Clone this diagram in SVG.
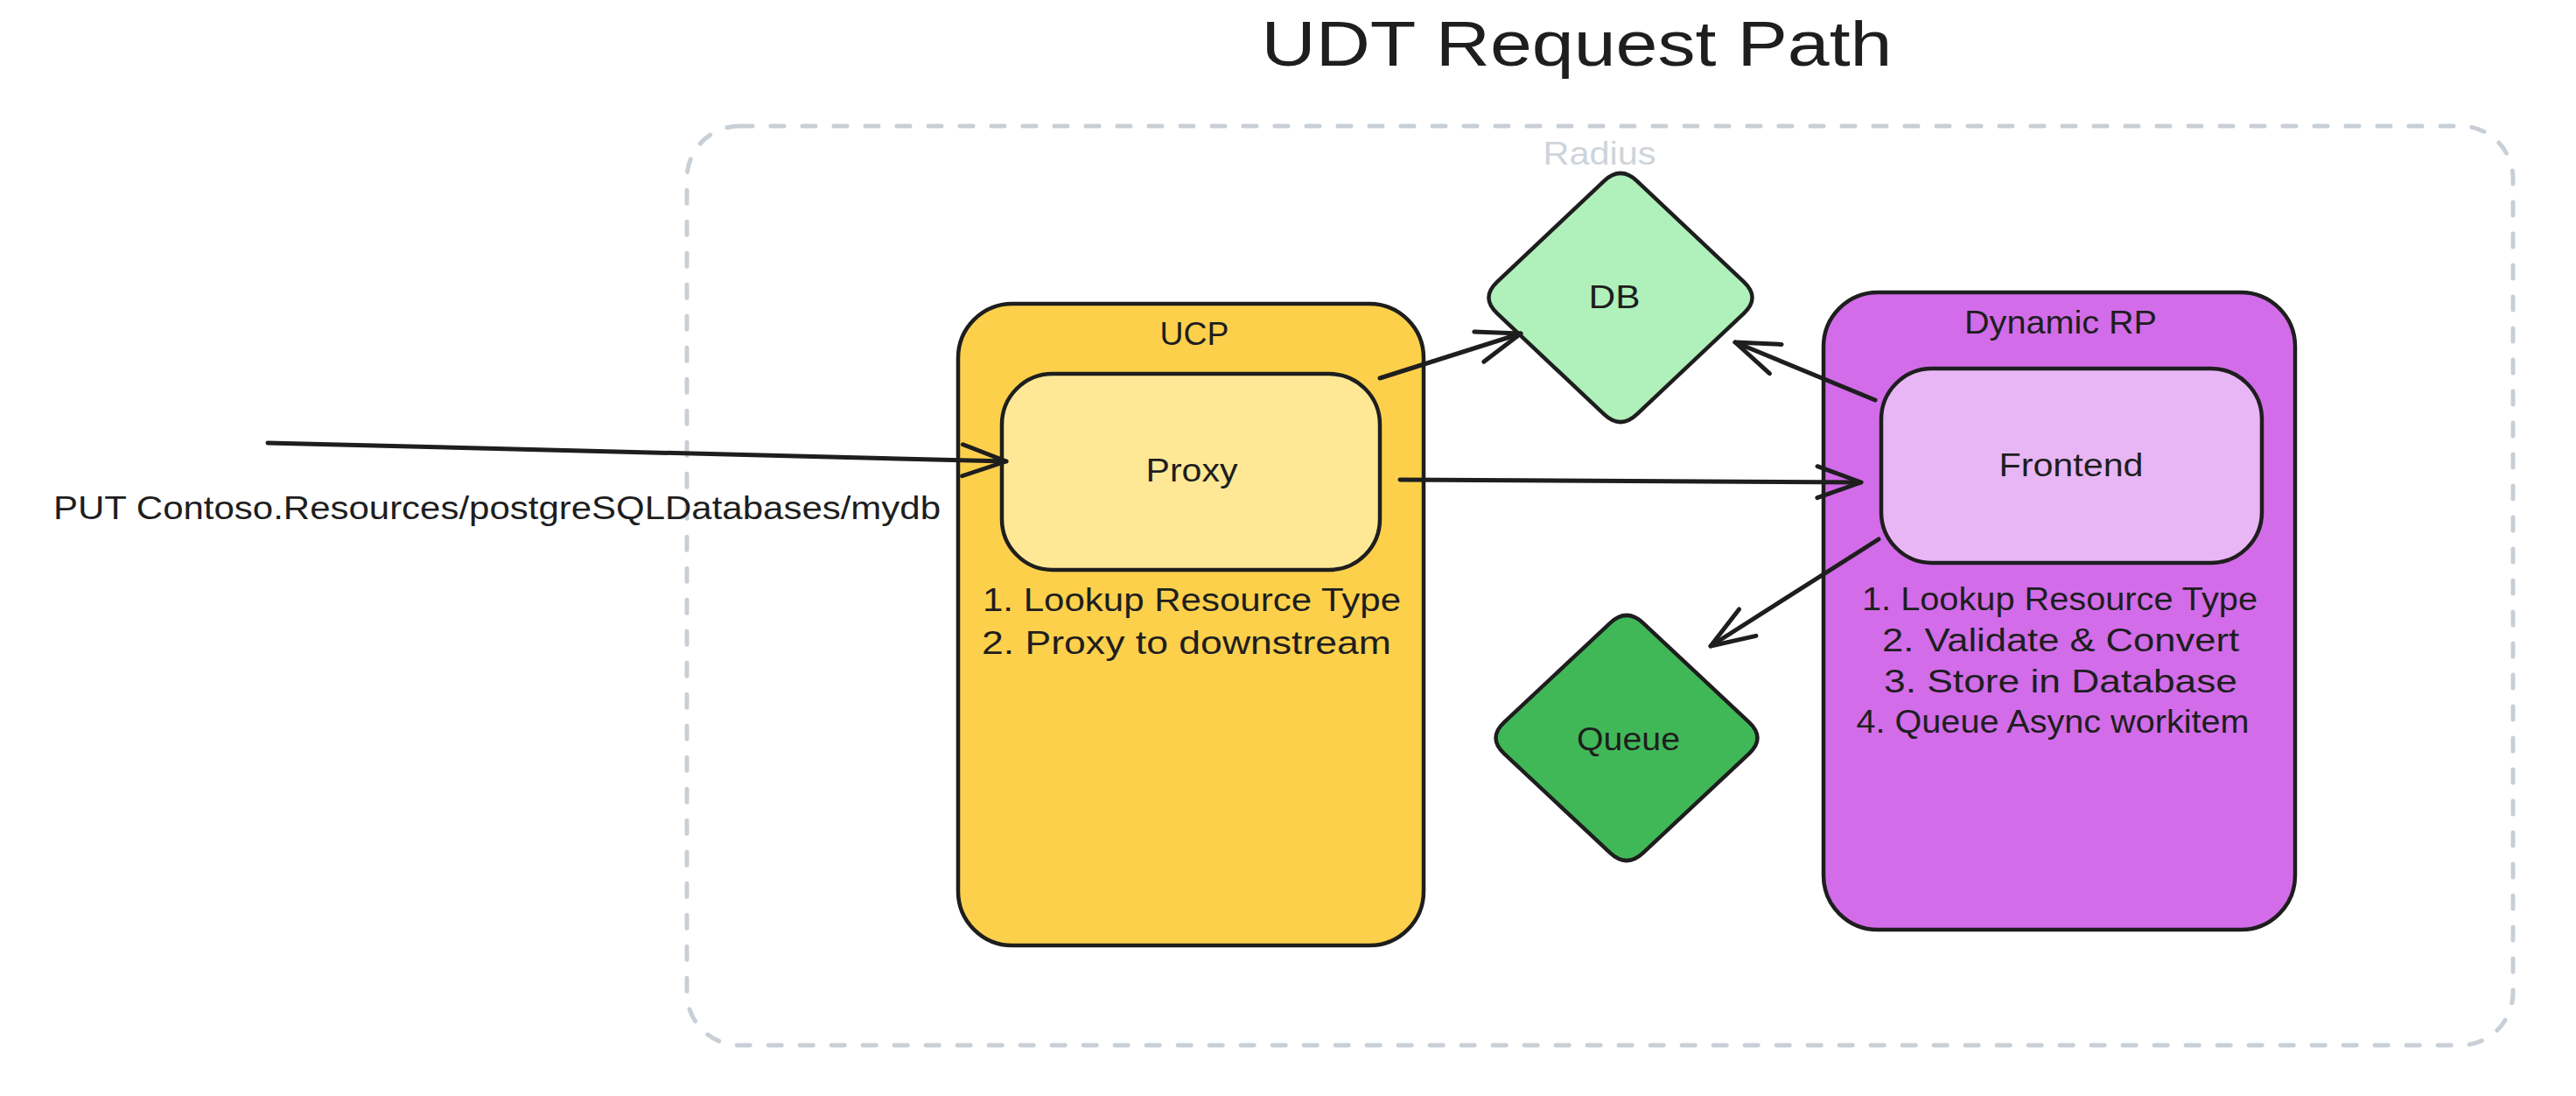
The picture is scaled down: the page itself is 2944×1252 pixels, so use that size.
<svg xmlns="http://www.w3.org/2000/svg" width="2944" height="1252" viewBox="0 0 2944 1252">
  <defs>
    <style>
      .t { font-family: "Liberation Sans", "DejaVu Sans", sans-serif; fill: #1e1e1e; }
      .lbl { font-size: 36px; }
      .shape { stroke: #1e1e1e; stroke-width: 4.5; stroke-linejoin: round; }
      .conn { fill: none; stroke: #1e1e1e; stroke-width: 5; stroke-linecap: round; }
    </style>
    <marker id="ah" markerUnits="userSpaceOnUse" viewBox="-60 -30 70 60" markerWidth="70" markerHeight="60" refX="0" refY="0" orient="auto" overflow="visible">
      <path d="M-50,-18 L0,0 L-50,18" fill="none" stroke="#1e1e1e" stroke-width="5" stroke-linecap="round" stroke-linejoin="round"/>
    </marker>
  </defs>
  <rect width="2944" height="1252" fill="#ffffff"/>

  <text id="title" class="t" x="1802" y="75" font-size="72" text-anchor="middle" textLength="721" lengthAdjust="spacingAndGlyphs">UDT Request Path</text>

  <g id="radius">
    <rect x="785" y="144" width="2087" height="1050" rx="60" fill="none" stroke="#c9cfd6" stroke-width="5" stroke-dasharray="15 21" stroke-linecap="round"/>
    <text class="t" x="1828" y="188" font-size="36" text-anchor="middle" style="fill:#ced4da" textLength="129" lengthAdjust="spacingAndGlyphs">Radius</text>
  </g>

  <g id="ucp">
    <rect class="shape" x="1095" y="347" width="532" height="733" rx="62" fill="#fdd04c"/>
    <text class="t lbl" x="1365" y="394" text-anchor="middle" textLength="79" lengthAdjust="spacingAndGlyphs">UCP</text>
    <text class="t lbl" x="1123" y="698" textLength="478" lengthAdjust="spacingAndGlyphs">1. Lookup Resource Type</text>
    <text class="t lbl" x="1122" y="747" textLength="468" lengthAdjust="spacingAndGlyphs">2. Proxy to downstream</text>
  </g>

  <g id="proxy">
    <rect class="shape" x="1145" y="427" width="432" height="224" rx="58" fill="#fee896"/>
    <text class="t lbl" x="1362" y="550" text-anchor="middle" textLength="105" lengthAdjust="spacingAndGlyphs">Proxy</text>
  </g>

  <g id="dynamic-rp">
    <rect class="shape" x="2084" y="334" width="539" height="728" rx="62" fill="#d26ce9"/>
    <text class="t lbl" x="2355" y="381" text-anchor="middle" textLength="220" lengthAdjust="spacingAndGlyphs">Dynamic RP</text>
    <text class="t lbl" x="2354" y="697" text-anchor="middle" textLength="452" lengthAdjust="spacingAndGlyphs">1. Lookup Resource Type</text>
    <text class="t lbl" x="2355" y="744" text-anchor="middle" textLength="408" lengthAdjust="spacingAndGlyphs">2. Validate &amp; Convert</text>
    <text class="t lbl" x="2355" y="791" text-anchor="middle" textLength="404" lengthAdjust="spacingAndGlyphs">3. Store in Database</text>
    <text class="t lbl" x="2346" y="837" text-anchor="middle" textLength="449" lengthAdjust="spacingAndGlyphs">4. Queue Async workitem</text>
  </g>

  <g id="frontend">
    <rect class="shape" x="2150" y="421" width="435" height="222" rx="58" fill="#e8b6f4"/>
    <text class="t lbl" x="2367" y="544" text-anchor="middle" textLength="165" lengthAdjust="spacingAndGlyphs">Frontend</text>
  </g>

  <g id="db">
    <path class="shape" fill="#b0f0ba" d="M1870.9,206.8 L1993.1,322.2 Q2012,340 1993.1,357.8 L1870.9,473.2 Q1852,491 1833.1,473.2 L1710.9,357.8 Q1692,340 1710.9,322.2 L1833.1,206.8 Q1852,189 1870.9,206.8 Z"/>
    <text class="t lbl" x="1845" y="352" text-anchor="middle" textLength="59" lengthAdjust="spacingAndGlyphs">DB</text>
  </g>

  <g id="queue">
    <path class="shape" fill="#41b858" d="M1878,711.8 L1999,825.2 Q2018,843 1999,860.8 L1878,974.2 Q1859,992 1840,974.2 L1719,860.8 Q1700,843 1719,825.2 L1840,711.8 Q1859,694 1878,711.8 Z"/>
    <text class="t lbl" x="1861" y="857" text-anchor="middle" textLength="118" lengthAdjust="spacingAndGlyphs">Queue</text>
  </g>

  <g id="request-label">
    <text class="t" x="61" y="593" font-size="36" textLength="1014" lengthAdjust="spacingAndGlyphs">PUT Contoso.Resources/postgreSQLDatabases/mydb</text>
  </g>

  <g id="connectors">
    <path class="conn" d="M306,506 L1150,527" marker-end="url(#ah)"/>
    <path class="conn" d="M1577,432 L1738,381" marker-end="url(#ah)"/>
    <path class="conn" d="M1600,548 L2127,551" marker-end="url(#ah)"/>
    <path class="conn" d="M2143,457 L1983,391" marker-end="url(#ah)"/>
    <path class="conn" d="M2147,616 L1955,738" marker-end="url(#ah)"/>
  </g>
</svg>
